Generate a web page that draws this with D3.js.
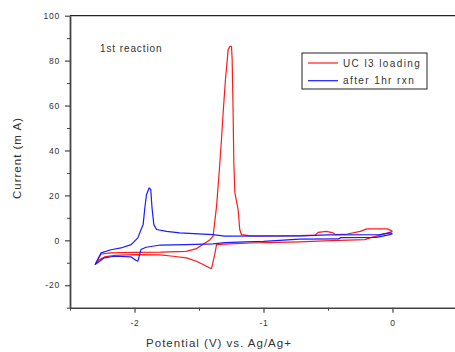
<!DOCTYPE html>
<html>
<head>
<meta charset="utf-8">
<script src="https://cdn.jsdelivr.net/npm/d3@7"></script>
<style>
  body { margin: 0; background: #fff; }
  svg { display: block; font-family: "Liberation Sans", Arial, sans-serif; }
  .tick text { fill: #333; font-size: 8.5px; letter-spacing: 0.8px; }
  .axis path, .axis line { stroke: #444; }
</style>
</head>
<body>
<svg width="455" height="352"></svg>
<script>
// UCl3 loading (red), cathodic sweep then anodic sweep
var redV = [0.0, -0.034, -0.176, -0.214, -0.41, -0.577, -0.72, -0.9, -1.1, -1.26, -1.364, -1.378, -1.403, -1.416,
            -1.468, -1.52, -1.597, -1.70, -1.80, -2.0, -2.15, -2.233, -2.27, -2.298,
            -2.259, -2.182, -2.0, -1.8, -1.6, -1.52, -1.47, -1.42, -1.391, -1.364, -1.344, -1.326, -1.313, -1.295,
            -1.274, -1.261, -1.248, -1.243, -1.236, -1.23, -1.222, -1.197, -1.184, -1.171, -1.1, -0.9, -0.72, -0.6,
            -0.577, -0.512, -0.46, -0.44, -0.35, -0.25, -0.2, -0.04, -0.008, 0.0];
var redI = [4.0, 3.3, 1.1, 0.3, 0.0, -0.4, -0.7, -0.9, -1.2, -1.6, -1.9, -6.4, -12.6, -12.3,
            -10.8, -9.3, -7.8, -7.1, -6.5, -6.4, -6.7, -7.4, -8.6, -10.0,
            -6.1, -5.6, -5.4, -5.3, -4.9, -3.7, -1.9, 0.0, 1.8, 15.1, 30, 44.8, 56.7, 71.5,
            84.9, 86.4, 86.4, 80.4, 58.2, 34.6, 21.2, 13.7, 4.8, 2.5, 2.0, 2.0, 2.1, 2.3,
            3.5, 4.0, 3.3, 2.5, 2.8, 4.0, 5.1, 5.1, 4.3, 4.0];

// after 1hr rxn (blue)
var blueV = [0.0, -0.02, -0.124, -0.40, -0.42, -0.72, -1.0, -1.14, -1.3, -1.39, -1.6, -1.8, -1.91, -1.95, -1.96,
             -1.974, -1.987, -2.026, -2.155, -2.233, -2.305,
             -2.259, -2.182, -2.105, -2.026, -1.974, -1.949, -1.933, -1.92, -1.907, -1.887, -1.874, -1.864, -1.85,
             -1.829, -1.752, -1.649, -1.393, -1.3, -0.7, -0.5, -0.1, -0.02, 0.0];
var blueI = [3.0, 2.5, 1.3, 1.2, 0.6, 0.5, -0.5, -0.7, -1.0, -1.6, -1.9, -2.1, -3.1, -4.1, -6.4,
             -9.3, -9.0, -7.4, -7.1, -7.8, -10.8,
             -5.6, -4.2, -3.4, -1.9, 1.1, 4.8, 7.0, 14.4, 20.3, 23.3, 22.6, 14.4, 7.0,
             4.8, 4.0, 3.3, 2.5, 1.9, 2.0, 2.4, 2.5, 3.3, 3.0];

var xMajor = [-2, -1, 0];
var xMinor = [-2.5, -1.5, -0.5];
var yMajor = [-20, 0, 20, 40, 60, 80, 100];
var yMinor = [-30, -10, 10, 30, 50, 70, 90];

var seriesNames = ['UC l3 loading', 'after 1hr rxn'];
var seriesColors = ['#ff1a1a', '#1a1aff'];

var svg = d3.select('svg');

var x = d3.scaleLinear().domain([-2.5, 0.5]).range([70, 457]),
    y = d3.scaleLinear().domain([-30, 100]).range([307.7, 15.7]);

// plain hyphen minus, like the original
var fmt = function(d){ return String(d); };

// top frame line
svg.append('line')
  .attr('x1', x(-2.5)).attr('x2', x(0.5))
  .attr('y1', y(100)).attr('y2', y(100))
  .attr('stroke', '#222').attr('stroke-width', 1.2);

// minor ticks
svg.append('g')
  .attr('class', 'axis')
  .attr('transform', 'translate(0,' + y(-30) + ')')
  .call(d3.axisBottom(x).tickValues(xMinor).tickSize(3).tickFormat(''))
  .select('.domain').remove();
svg.append('g')
  .attr('class', 'axis')
  .attr('transform', 'translate(' + x(-2.5) + ',0)')
  .call(d3.axisLeft(y).tickValues(yMinor).tickSize(3).tickFormat(''))
  .select('.domain').remove();

// major axes
var xAxis = svg.append('g')
  .attr('class', 'axis')
  .attr('transform', 'translate(0,' + y(-30) + ')')
  .call(d3.axisBottom(x).tickValues(xMajor).tickSize(5).tickSizeOuter(0).tickPadding(7)
        .tickFormat(fmt));
xAxis.select('.domain').attr('stroke-width', 1.6);
xAxis.selectAll('.tick line').attr('stroke-width', 1.2);

var yAxis = svg.append('g')
  .attr('class', 'axis')
  .attr('transform', 'translate(' + x(-2.5) + ',0)')
  .call(d3.axisLeft(y).tickValues(yMajor).tickSize(5).tickSizeOuter(0).tickPadding(5)
        .tickFormat(fmt));
yAxis.select('.domain').attr('stroke-width', 1.8);
yAxis.selectAll('.tick line').attr('stroke-width', 1.2);

// the curves
var line = d3.line()
  .x(function(d){ return x(d[0]); })
  .y(function(d){ return y(d[1]); });

var curves = [d3.zip(redV, redI), d3.zip(blueV, blueI)];

svg.append('g')
  .selectAll('path')
  .data(curves)
  .enter()
  .append('path')
  .attr('d', line)
  .attr('fill', 'none')
  .attr('stroke', function(d, i){ return seriesColors[i]; })
  .attr('stroke-width', 1.2)
  .attr('stroke-linejoin', 'round');

// titles
svg.append('text')
  .attr('x', 219).attr('y', 347)
  .attr('text-anchor', 'middle')
  .attr('font-size', 11.5).attr('fill', '#333')
  .attr('letter-spacing', 1)
  .text('Potential (V) vs. Ag/Ag+');

svg.append('text')
  .attr('transform', 'translate(21,158) rotate(-90)')
  .attr('text-anchor', 'middle')
  .attr('font-size', 11.5).attr('fill', '#333')
  .attr('letter-spacing', 1)
  .text('Current (m A)');

svg.append('text')
  .attr('x', 100).attr('y', 51.5)
  .attr('font-size', 10).attr('fill', '#333')
  .attr('letter-spacing', 0.9)
  .text('1st reaction');

// legend
var legend = svg.append('g').attr('transform', 'translate(302,53)');
legend.append('rect')
  .attr('width', 125).attr('height', 36)
  .attr('fill', '#fff').attr('stroke', '#222').attr('stroke-width', 1);

var items = legend.selectAll('g.item')
  .data(seriesNames)
  .enter()
  .append('g')
  .attr('class', 'item')
  .attr('transform', function(d, i){ return 'translate(0,' + (10 + i * 17.7) + ')'; });

items.append('line')
  .attr('x1', 6).attr('x2', 36)
  .attr('stroke', function(d, i){ return seriesColors[i]; })
  .attr('stroke-width', 1.2);

items.append('text')
  .attr('x', 41).attr('y', 3.5)
  .attr('font-size', 10).attr('fill', '#333')
  .attr('letter-spacing', 1.4)
  .text(function(d){ return d; });
</script>
</body>
</html>
